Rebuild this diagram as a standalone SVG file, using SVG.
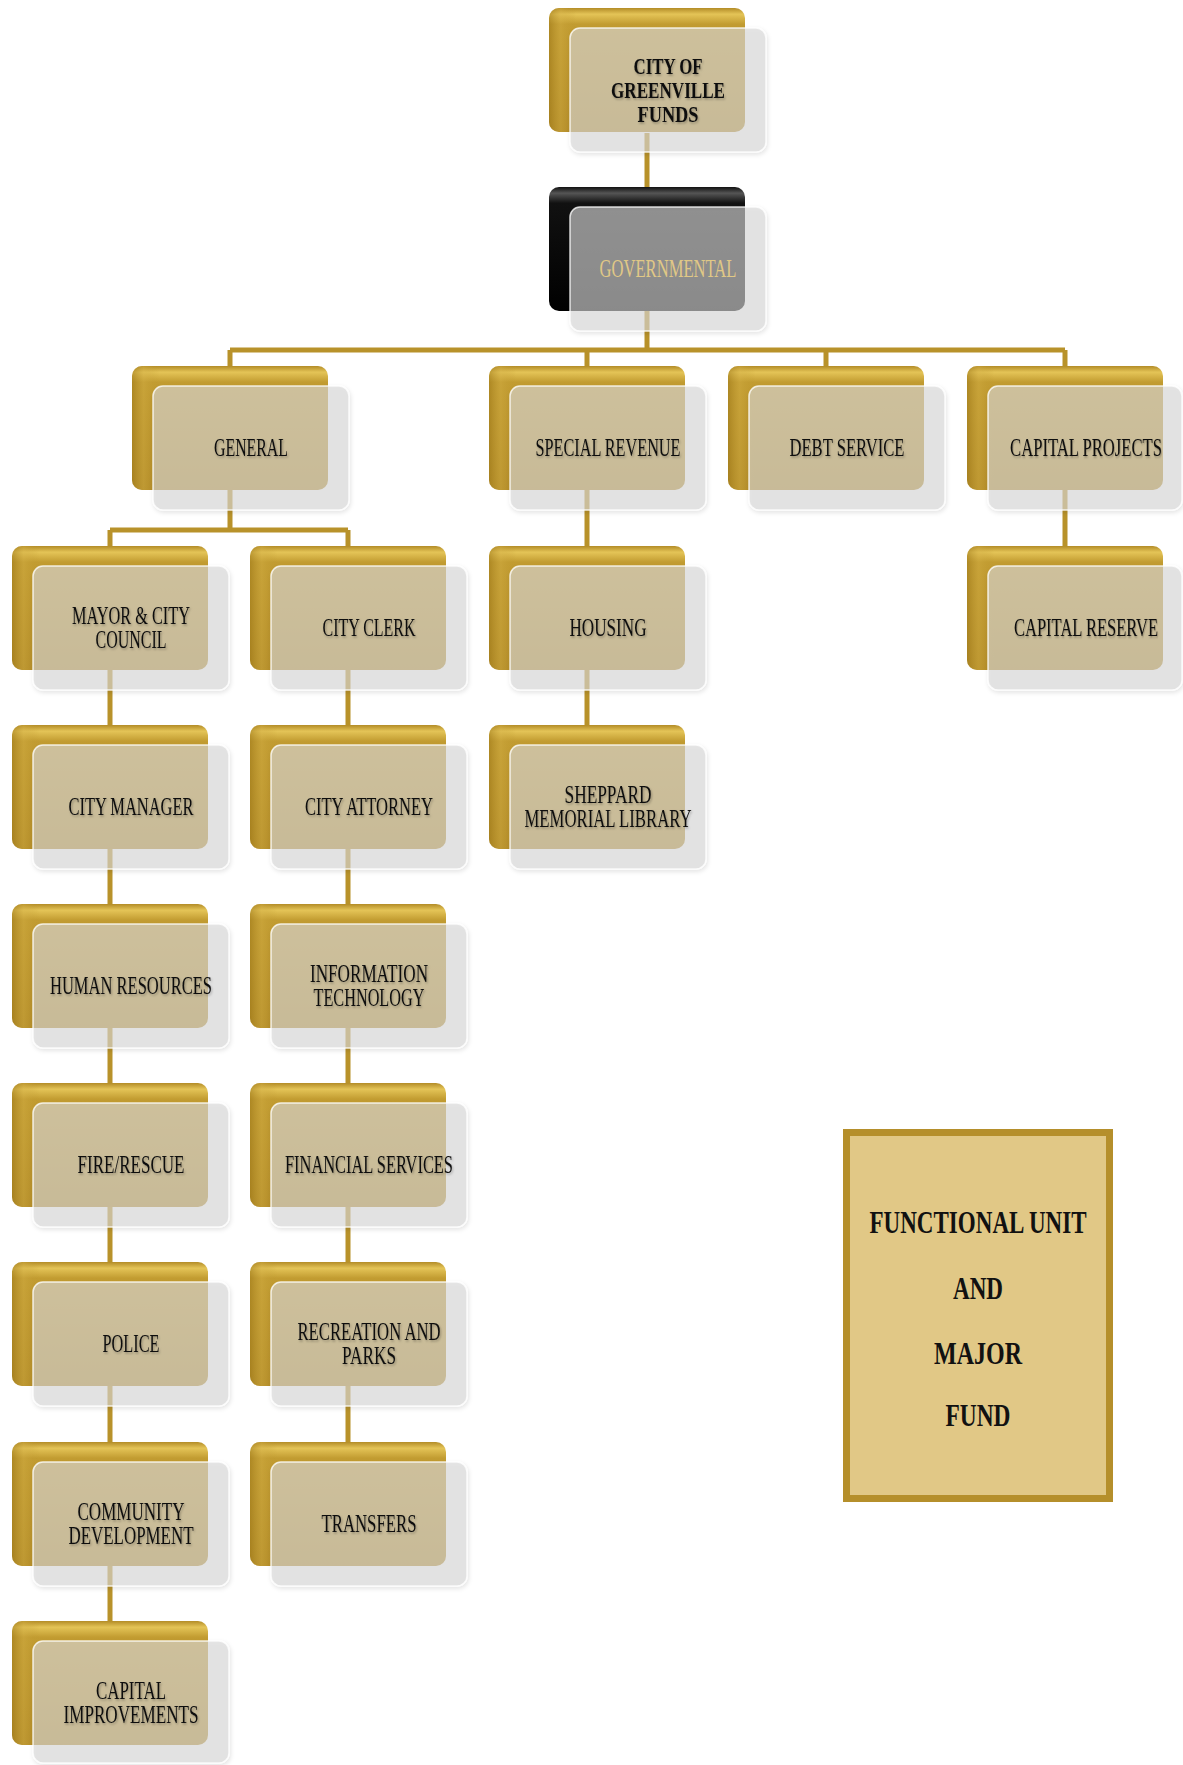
<svg xmlns="http://www.w3.org/2000/svg" width="1183" height="1765" viewBox="0 0 1183 1765">
<defs>
<linearGradient id="gold" x1="0" y1="0" x2="0" y2="1">
<stop offset="0" stop-color="#B38C27"/>
<stop offset="0.05" stop-color="#E4C457"/>
<stop offset="0.13" stop-color="#C29C31"/>
<stop offset="1" stop-color="#B28B27"/>
</linearGradient>
<linearGradient id="goldL" x1="0" y1="0" x2="1" y2="0">
<stop offset="0" stop-color="#9C7718" stop-opacity="0.55"/>
<stop offset="0.06" stop-color="#D2AE45" stop-opacity="0.4"/>
<stop offset="0.14" stop-color="#B8922A" stop-opacity="0"/>
</linearGradient>
<linearGradient id="blk" x1="0" y1="0" x2="0" y2="1">
<stop offset="0" stop-color="#111"/>
<stop offset="0.05" stop-color="#555"/>
<stop offset="0.13" stop-color="#111"/>
<stop offset="1" stop-color="#000"/>
</linearGradient>
<filter id="ts" x="-10%" y="-30%" width="120%" height="160%">
<feDropShadow dx="1" dy="1.5" stdDeviation="1" flood-color="#000" flood-opacity="0.3"/>
</filter>
<filter id="gs" x="-10%" y="-10%" width="125%" height="130%">
<feDropShadow dx="1" dy="2" stdDeviation="2" flood-color="#000" flood-opacity="0.15"/>
</filter>
</defs>
<style>
.bk{fill:url(#gold)}
.bl{fill:url(#goldL)}
.bb{fill:url(#blk)}
.gl{fill:#D9D9D9;fill-opacity:0.62;stroke:#ffffff;stroke-opacity:0.8;stroke-width:1.5}
.t{font-family:"Liberation Serif",serif;font-size:25px;fill:#111;text-anchor:middle}
.tb{font-family:"Liberation Serif",serif;font-size:24px;font-weight:bold;fill:#111;text-anchor:middle}
.tg{font-family:"Liberation Serif",serif;font-size:25px;fill:#E0C886;text-anchor:middle}
.lg{font-family:"Liberation Serif",serif;font-size:32px;font-weight:bold;fill:#111;text-anchor:middle}
.c{stroke:#B8922A;stroke-width:5;fill:none}
</style>

<g id="connectors">
<path class="c" d="M647,133 V187 M647,311 V350 M230,350 H1065 M230,350 V366 M587,350 V366 M826,350 V366 M1065,350 V366"/>
<path class="c" d="M230,490 V530 M110,530 H348 M110,530 V546 M348,530 V546"/>
<path class="c" d="M110,670 V1621 M348,670 V1442 M587,490 V725 M1065,490 V546"/>
</g>

<g id="n-top">
<rect class="bk" x="549" y="8" width="196" height="124" rx="10"/>
<rect class="bl" x="549" y="8" width="196" height="124" rx="10"/>
<rect class="gl" x="570" y="28" width="196" height="124" rx="10" filter="url(#gs)"/>
<g filter="url(#ts)">
<text class="tb" x="668" y="74" textLength="69" lengthAdjust="spacingAndGlyphs">CITY OF</text>
<text class="tb" x="668" y="98" textLength="114" lengthAdjust="spacingAndGlyphs">GREENVILLE</text>
<text class="tb" x="668" y="122" textLength="61" lengthAdjust="spacingAndGlyphs">FUNDS</text>
</g>
</g>

<g id="n-governmental">
<rect class="bb" x="549" y="187" width="196" height="124" rx="10"/>
<rect class="gl" x="570" y="207" width="196" height="124" rx="10" filter="url(#gs)"/>
<text class="tg" x="668" y="277" textLength="137" lengthAdjust="spacingAndGlyphs">GOVERNMENTAL</text>
</g>

<g id="n-general">
<rect class="bk" x="132" y="366" width="196" height="124" rx="10"/>
<rect class="bl" x="132" y="366" width="196" height="124" rx="10"/>
<rect class="gl" x="153" y="386" width="196" height="124" rx="10" filter="url(#gs)"/>
<text class="t" filter="url(#ts)" x="251" y="456" textLength="74" lengthAdjust="spacingAndGlyphs">GENERAL</text>
</g>

<g id="n-special-revenue">
<rect class="bk" x="489" y="366" width="196" height="124" rx="10"/>
<rect class="bl" x="489" y="366" width="196" height="124" rx="10"/>
<rect class="gl" x="510" y="386" width="196" height="124" rx="10" filter="url(#gs)"/>
<text class="t" filter="url(#ts)" x="608" y="456" textLength="145" lengthAdjust="spacingAndGlyphs">SPECIAL REVENUE</text>
</g>

<g id="n-debt-service">
<rect class="bk" x="728" y="366" width="196" height="124" rx="10"/>
<rect class="bl" x="728" y="366" width="196" height="124" rx="10"/>
<rect class="gl" x="749" y="386" width="196" height="124" rx="10" filter="url(#gs)"/>
<text class="t" filter="url(#ts)" x="847" y="456" textLength="115" lengthAdjust="spacingAndGlyphs">DEBT SERVICE</text>
</g>

<g id="n-capital-projects">
<rect class="bk" x="967" y="366" width="196" height="124" rx="10"/>
<rect class="bl" x="967" y="366" width="196" height="124" rx="10"/>
<rect class="gl" x="988" y="386" width="194" height="124" rx="10" filter="url(#gs)"/>
<text class="t" filter="url(#ts)" x="0" y="0" transform="translate(1086,456) scale(0.66,1)" textLength="230" lengthAdjust="spacingAndGlyphs">CAPITAL PROJECTS</text>
</g>

<g id="n-mayor">
<rect class="bk" x="12" y="546" width="196" height="124" rx="10"/>
<rect class="bl" x="12" y="546" width="196" height="124" rx="10"/>
<rect class="gl" x="33" y="566" width="196" height="124" rx="10" filter="url(#gs)"/>
<g filter="url(#ts)">
<text class="t" x="131" y="624" textLength="118" lengthAdjust="spacingAndGlyphs">MAYOR &amp; CITY</text>
<text class="t" x="131" y="648" textLength="71" lengthAdjust="spacingAndGlyphs">COUNCIL</text>
</g>
</g>

<g id="n-city-clerk">
<rect class="bk" x="250" y="546" width="196" height="124" rx="10"/>
<rect class="bl" x="250" y="546" width="196" height="124" rx="10"/>
<rect class="gl" x="271" y="566" width="196" height="124" rx="10" filter="url(#gs)"/>
<text class="t" filter="url(#ts)" x="369" y="636" textLength="93" lengthAdjust="spacingAndGlyphs">CITY CLERK</text>
</g>

<g id="n-housing">
<rect class="bk" x="489" y="546" width="196" height="124" rx="10"/>
<rect class="bl" x="489" y="546" width="196" height="124" rx="10"/>
<rect class="gl" x="510" y="566" width="196" height="124" rx="10" filter="url(#gs)"/>
<text class="t" filter="url(#ts)" x="608" y="636" textLength="77" lengthAdjust="spacingAndGlyphs">HOUSING</text>
</g>

<g id="n-capital-reserve">
<rect class="bk" x="967" y="546" width="196" height="124" rx="10"/>
<rect class="bl" x="967" y="546" width="196" height="124" rx="10"/>
<rect class="gl" x="988" y="566" width="194" height="124" rx="10" filter="url(#gs)"/>
<text class="t" filter="url(#ts)" x="0" y="0" transform="translate(1086,636) scale(0.646,1)" textLength="223" lengthAdjust="spacingAndGlyphs">CAPITAL RESERVE</text>
</g>

<g id="n-city-manager">
<rect class="bk" x="12" y="725" width="196" height="124" rx="10"/>
<rect class="bl" x="12" y="725" width="196" height="124" rx="10"/>
<rect class="gl" x="33" y="745" width="196" height="124" rx="10" filter="url(#gs)"/>
<text class="t" filter="url(#ts)" x="131" y="815" textLength="125" lengthAdjust="spacingAndGlyphs">CITY MANAGER</text>
</g>

<g id="n-city-attorney">
<rect class="bk" x="250" y="725" width="196" height="124" rx="10"/>
<rect class="bl" x="250" y="725" width="196" height="124" rx="10"/>
<rect class="gl" x="271" y="745" width="196" height="124" rx="10" filter="url(#gs)"/>
<text class="t" filter="url(#ts)" x="369" y="815" textLength="128" lengthAdjust="spacingAndGlyphs">CITY ATTORNEY</text>
</g>

<g id="n-sheppard">
<rect class="bk" x="489" y="725" width="196" height="124" rx="10"/>
<rect class="bl" x="489" y="725" width="196" height="124" rx="10"/>
<rect class="gl" x="510" y="745" width="196" height="124" rx="10" filter="url(#gs)"/>
<g filter="url(#ts)">
<text class="t" x="608" y="803" textLength="87" lengthAdjust="spacingAndGlyphs">SHEPPARD</text>
<text class="t" x="608" y="827" textLength="167" lengthAdjust="spacingAndGlyphs">MEMORIAL LIBRARY</text>
</g>
</g>

<g id="n-human-resources">
<rect class="bk" x="12" y="904" width="196" height="124" rx="10"/>
<rect class="bl" x="12" y="904" width="196" height="124" rx="10"/>
<rect class="gl" x="33" y="924" width="196" height="124" rx="10" filter="url(#gs)"/>
<text class="t" filter="url(#ts)" x="131" y="994" textLength="162" lengthAdjust="spacingAndGlyphs">HUMAN RESOURCES</text>
</g>

<g id="n-information-technology">
<rect class="bk" x="250" y="904" width="196" height="124" rx="10"/>
<rect class="bl" x="250" y="904" width="196" height="124" rx="10"/>
<rect class="gl" x="271" y="924" width="196" height="124" rx="10" filter="url(#gs)"/>
<g filter="url(#ts)">
<text class="t" x="369" y="982" textLength="118" lengthAdjust="spacingAndGlyphs">INFORMATION</text>
<text class="t" x="369" y="1006" textLength="111" lengthAdjust="spacingAndGlyphs">TECHNOLOGY</text>
</g>
</g>

<g id="n-fire-rescue">
<rect class="bk" x="12" y="1083" width="196" height="124" rx="10"/>
<rect class="bl" x="12" y="1083" width="196" height="124" rx="10"/>
<rect class="gl" x="33" y="1103" width="196" height="124" rx="10" filter="url(#gs)"/>
<text class="t" filter="url(#ts)" x="131" y="1173" textLength="107" lengthAdjust="spacingAndGlyphs">FIRE/RESCUE</text>
</g>

<g id="n-financial-services">
<rect class="bk" x="250" y="1083" width="196" height="124" rx="10"/>
<rect class="bl" x="250" y="1083" width="196" height="124" rx="10"/>
<rect class="gl" x="271" y="1103" width="196" height="124" rx="10" filter="url(#gs)"/>
<text class="t" filter="url(#ts)" x="369" y="1173" textLength="168" lengthAdjust="spacingAndGlyphs">FINANCIAL SERVICES</text>
</g>

<g id="n-police">
<rect class="bk" x="12" y="1262" width="196" height="124" rx="10"/>
<rect class="bl" x="12" y="1262" width="196" height="124" rx="10"/>
<rect class="gl" x="33" y="1282" width="196" height="124" rx="10" filter="url(#gs)"/>
<text class="t" filter="url(#ts)" x="131" y="1352" textLength="57" lengthAdjust="spacingAndGlyphs">POLICE</text>
</g>

<g id="n-recreation-parks">
<rect class="bk" x="250" y="1262" width="196" height="124" rx="10"/>
<rect class="bl" x="250" y="1262" width="196" height="124" rx="10"/>
<rect class="gl" x="271" y="1282" width="196" height="124" rx="10" filter="url(#gs)"/>
<g filter="url(#ts)">
<text class="t" x="369" y="1340" textLength="143" lengthAdjust="spacingAndGlyphs">RECREATION AND</text>
<text class="t" x="369" y="1364" textLength="54" lengthAdjust="spacingAndGlyphs">PARKS</text>
</g>
</g>

<g id="n-community-development">
<rect class="bk" x="12" y="1442" width="196" height="124" rx="10"/>
<rect class="bl" x="12" y="1442" width="196" height="124" rx="10"/>
<rect class="gl" x="33" y="1462" width="196" height="124" rx="10" filter="url(#gs)"/>
<g filter="url(#ts)">
<text class="t" x="131" y="1520" textLength="107" lengthAdjust="spacingAndGlyphs">COMMUNITY</text>
<text class="t" x="131" y="1544" textLength="125" lengthAdjust="spacingAndGlyphs">DEVELOPMENT</text>
</g>
</g>

<g id="n-transfers">
<rect class="bk" x="250" y="1442" width="196" height="124" rx="10"/>
<rect class="bl" x="250" y="1442" width="196" height="124" rx="10"/>
<rect class="gl" x="271" y="1462" width="196" height="124" rx="10" filter="url(#gs)"/>
<text class="t" filter="url(#ts)" x="369" y="1532" textLength="95" lengthAdjust="spacingAndGlyphs">TRANSFERS</text>
</g>

<g id="n-capital-improvements">
<rect class="bk" x="12" y="1621" width="196" height="124" rx="10"/>
<rect class="bl" x="12" y="1621" width="196" height="124" rx="10"/>
<rect class="gl" x="33" y="1641" width="196" height="122" rx="10" filter="url(#gs)"/>
<g filter="url(#ts)">
<text class="t" x="131" y="1699" textLength="70" lengthAdjust="spacingAndGlyphs">CAPITAL</text>
<text class="t" x="131" y="1723" textLength="135" lengthAdjust="spacingAndGlyphs">IMPROVEMENTS</text>
</g>
</g>

<g id="legend">
<rect x="846.5" y="1132.5" width="263" height="366" fill="#E1C886" stroke="#B58F2B" stroke-width="7"/>
<text class="lg" x="978" y="1233" textLength="217" lengthAdjust="spacingAndGlyphs">FUNCTIONAL UNIT</text>
<text class="lg" x="978" y="1299" textLength="50" lengthAdjust="spacingAndGlyphs">AND</text>
<text class="lg" x="978" y="1364" textLength="88" lengthAdjust="spacingAndGlyphs">MAJOR</text>
<text class="lg" x="978" y="1426" textLength="65" lengthAdjust="spacingAndGlyphs">FUND</text>
</g>
</svg>
